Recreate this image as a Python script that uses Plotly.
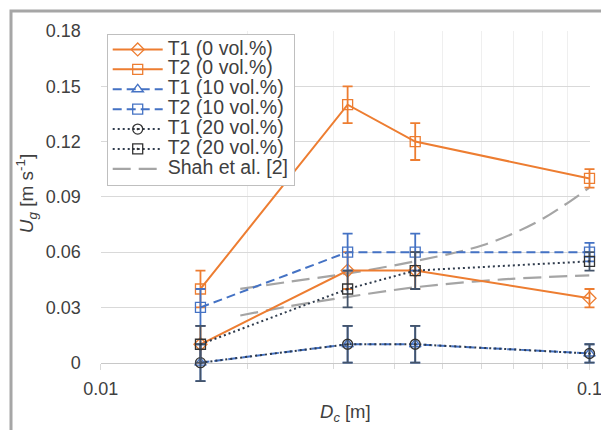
import plotly.graph_objects as go

# ---- data ----
dc = [0.016, 0.032, 0.044, 0.1]

t1_0 = [0.01, 0.05, 0.05, 0.035]
t2_0 = [0.04, 0.14, 0.12, 0.10]
t1_10 = [0.0, 0.01, 0.01, 0.005]
t2_10 = [0.03, 0.06, 0.06, 0.06]
t1_20 = [0.0, 0.01, 0.01, 0.005]
t2_20 = [0.01, 0.04, 0.05, 0.055]
err = [0.01, 0.01, 0.01, 0.005]

shah_hi_x = [0.0193, 0.0244, 0.0318, 0.0442, 0.0614, 0.0777, 0.0894, 0.1]
shah_hi_y = [0.0401, 0.0440, 0.0483, 0.0552, 0.0643, 0.0761, 0.0860, 0.0951]
shah_lo_x = [0.0193, 0.0244, 0.0318, 0.0442, 0.0664, 0.1]
shah_lo_y = [0.0256, 0.0307, 0.0356, 0.0410, 0.0452, 0.0474]

y_ticks = [0, 0.03, 0.06, 0.09, 0.12, 0.15, 0.18]
y_ticktext = ["0", "0.03", "0.06", "0.09", "0.12", "0.15", "0.18"]
x_ticks = [0.01, 0.1]
x_ticktext = ["0.01", "0.1"]
x_minor = [0.02, 0.03, 0.04, 0.05, 0.06, 0.07, 0.08, 0.09]

X_RANGE = [-2, -1]
Y_RANGE = [0, 0.18]

# ---- layout geometry (px) ----
OFF = 8                      # page body margin
W, H = 609 - OFF, 430 - OFF
PL, PR, PT, PB = 100.7 - OFF, 589.5 - OFF, 31 - OFF, 362.7 - OFF   # plot box
ML, MR, MT, MB = 50, 4, 5, 30                                      # paper margins
PAPER_L, PAPER_R, PAPER_T, PAPER_B = ML, W - MR, MT, H - MB
PW, PH = PAPER_R - PAPER_L, PAPER_B - PAPER_T

xdom = [(PL - PAPER_L) / PW, (PR - PAPER_L) / PW]
ydom = [(PAPER_B - PB) / PH, (PAPER_B - PT) / PH]
dec_px = (PR - PL) / (X_RANGE[1] - X_RANGE[0])
x2_range = [X_RANGE[0] - (PL - PAPER_L) / dec_px, X_RANGE[1] + (PAPER_R - PR) / dec_px]
y_per_px = (Y_RANGE[1] - Y_RANGE[0]) / (PB - PT)
y2_range = [Y_RANGE[0] - (PAPER_B - PB) * y_per_px, Y_RANGE[1] + (PT - PAPER_T) * y_per_px]


def px_x(p):   # page px -> paper x
    return (p - OFF - PAPER_L) / PW


def px_y(p):   # page px -> paper y
    return (PAPER_B - (p - OFF)) / PH


ORANGE = "#ED7D31"
BLUE = "#4472C4"
DARK = "#2F3B4C"
NAVY = "#44546A"
GRAY = "#A5A5A5"
TXT = "#404040"


def lg(s):
    return '<span style="font-size:19.5px">' + s + "</span>"


fig = go.Figure()

# Shah et al. correlation curves on the main axes
fig.add_trace(go.Scatter(
    x=shah_hi_x, y=shah_hi_y, name=lg("Shah et al. [2]"), mode="lines",
    line=dict(color=GRAY, width=2.2, dash="18px,8px", shape="spline"),
    legendrank=1007,
))
fig.add_trace(go.Scatter(
    x=shah_lo_x, y=shah_lo_y, name=lg("Shah et al. [2]"), mode="lines",
    line=dict(color=GRAY, width=2.2, dash="18px,8px", shape="spline"),
    showlegend=False,
))


def add(name, y, color, dash, symbol, mcolor, ecolor, rank):
    fig.add_trace(go.Scatter(
        x=dc, y=y, name=lg(name), mode="lines+markers",
        xaxis="x2", yaxis="y2",
        line=dict(color=color, width=2, dash=dash),
        marker=dict(symbol=symbol, size=10, color=mcolor,
                    line=dict(color=mcolor, width=1.3)),
        error_y=dict(type="data", array=err, visible=True, color=ecolor,
                     thickness=1.8, width=5),
        cliponaxis=False, legendrank=rank,
    ))


add("T1 (0 vol.%)", t1_0, ORANGE, "solid", "diamond-open", ORANGE, ORANGE, 1001)
add("T2 (0 vol.%)", t2_0, ORANGE, "solid", "square-open", ORANGE, ORANGE, 1002)
add("T1 (10 vol.%)", t1_10, BLUE, "9px,5px", "triangle-up-open", BLUE, BLUE, 1003)
add("T2 (10 vol.%)", t2_10, BLUE, "9px,5px", "square-open", BLUE, BLUE, 1004)
add("T1 (20 vol.%)", t1_20, DARK, "2px,3px", "circle-open-dot", "#333333", NAVY, 1005)
add("T2 (20 vol.%)", t2_20, DARK, "2px,3px", "square-open-dot", "#333333", NAVY, 1006)

fig.update_layout(
    width=W, height=H,
    margin=dict(l=ML, r=MR, t=MT, b=MB, pad=0, autoexpand=False),
    paper_bgcolor="white", plot_bgcolor="rgba(0,0,0,0)",
    font=dict(family="Liberation Sans, Arial, sans-serif", size=18, color=TXT),
    showlegend=True,
    legend=dict(xref="container", yref="container",
                x=(106.7 - OFF) / W, y=1 - (33.5 - OFF) / H,
                xanchor="left", yanchor="top",
                bgcolor="white", bordercolor="#BFBFBF", borderwidth=1,
                font=dict(size=13, color=TXT), itemwidth=50,
                tracegroupgap=0),
    shapes=[dict(type="rect", xref="paper", yref="paper",
                 x0=px_x(11), x1=1.3, y0=-0.5, y1=px_y(11),
                 line=dict(color="#A6A6A6", width=3), layer="below")],
    annotations=[
        dict(text="<i>D</i><sub><i>c</i></sub> [m]", xref="paper", yref="paper",
             x=px_x(345), y=px_y(413), xanchor="center", yanchor="middle",
             showarrow=False, font=dict(size=18.5, color=TXT)),
        dict(text="<i>U</i><sub><i>g</i></sub> [m s<sup>-1</sup>]",
             xref="paper", yref="paper", textangle=-90,
             x=px_x(26.7), y=px_y(193.5), xanchor="center", yanchor="middle",
             showarrow=False, font=dict(size=19, color=TXT)),
    ],
    xaxis=dict(
        type="log", range=X_RANGE, domain=xdom, anchor="y",
        tickvals=x_ticks, ticktext=x_ticktext,
        showgrid=True, gridcolor="#D9D9D9", gridwidth=1,
        ticks="outside", ticklen=6, tickcolor="#D9D9D9",
        showline=True, linecolor="#C8C8C8", linewidth=1.3,
        zeroline=False, ticklabelstandoff=4,
        minor=dict(tickvals=x_minor, showgrid=True, gridcolor="#EFEFEF",
                   ticks="outside", ticklen=5, tickcolor="#D9D9D9"),
    ),
    yaxis=dict(
        range=Y_RANGE, domain=ydom, anchor="x",
        tickvals=y_ticks, ticktext=y_ticktext,
        showgrid=True, gridcolor="#D9D9D9", gridwidth=1,
        showline=False, zeroline=False, ticks="", ticklabelstandoff=19,
    ),
    xaxis2=dict(type="log", range=x2_range, domain=[0, 1], anchor="y2",
                visible=False),
    yaxis2=dict(range=y2_range, domain=[0, 1], anchor="x2", visible=False),
)

fig.write_html("out.html")
